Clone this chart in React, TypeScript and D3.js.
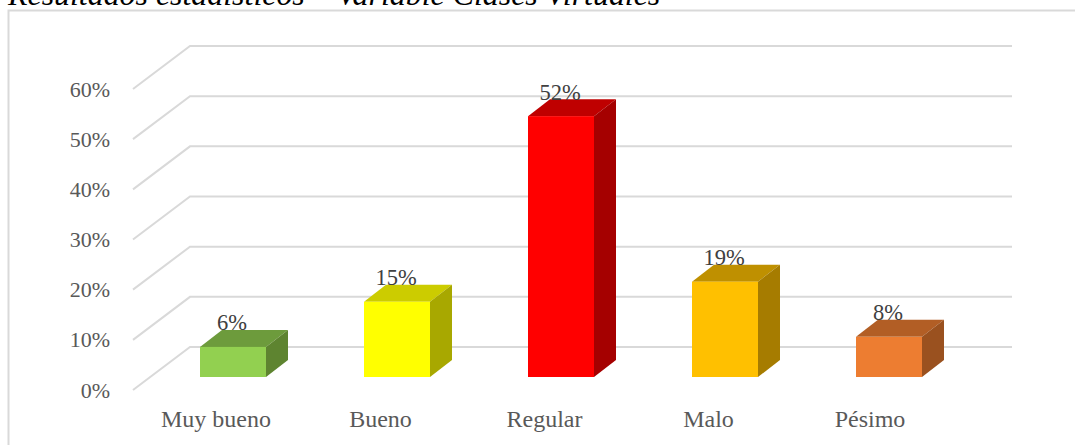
import React from "react";
import * as d3 from "d3";

const categories = ["Muy bueno", "Bueno", "Regular", "Malo", "Pésimo"];
const values = [6, 15, 52, 19, 8];
const ticks = [0, 10, 20, 30, 40, 50, 60];
const frontColors = ["#92d050", "#ffff00", "#ff0000", "#ffc000", "#ed7d31"];
const topColors = ["#6d9b3c", "#cccc00", "#bf0000", "#bf9000", "#b25e25"];
const sideColors = ["#5e8430", "#a8a800", "#a50000", "#a67c00", "#9a511f"];
const labelCenters = [216, 380.5, 544.5, 708.5, 870];
const titleText = "Resultados estadísticos – Variable Clases Virtuales";

const DX = 57;
const DY = -43;
const BAR_DX = 22;
const BAR_DY = -17;
const SERIF = "'Liberation Serif', serif";

export default function App() {
  const y = d3.scaleLinear().domain([0, 60]).range([390, 89]);
  const barY = d3.scaleLinear().domain([0, 60]).range([377, 76]);
  const step = 164;
  const w = 66;
  const xl = (i: number) => 200 + i * step;
  return (
    <svg width={1075} height={445} style={{ position: "absolute", left: 0, top: 0, background: "#fff" }}>
      <text x={8} y={5} fontFamily={SERIF} fontStyle="italic" fontSize={31.9} fill="#000">{titleText}</text>
      <path d="M8.5 445V10.5H1075" fill="none" stroke="#d9d9d9" strokeWidth={2} />
      {ticks.map((t) => (
        <g key={t}>
          <path d={`M133 ${y(t)}L${133 + DX} ${y(t) + DY}H1012`} fill="none" stroke="#d9d9d9" strokeWidth={2} />
          <text x={110} y={y(t) + 7.5} textAnchor="end" fontFamily={SERIF} fontSize={22} fill="#595959">{t}%</text>
        </g>
      ))}
      {categories.map((c, i) => {
        const l = xl(i);
        const r = l + w;
        const t = barY(values[i]);
        const b = barY(0);
        return (
          <g key={c}>
            <path d={`M${l} ${t}H${r}L${r + BAR_DX} ${t + BAR_DY}H${l + BAR_DX}Z`} fill={topColors[i]} />
            <path d={`M${r} ${t}V${b}L${r + BAR_DX} ${b + BAR_DY}V${t + BAR_DY}Z`} fill={sideColors[i]} />
            <rect x={l} y={t} width={w} height={b - t} fill={frontColors[i]} />
            <text x={l + w / 2 - 1} y={t - 16.5} textAnchor="middle" fontFamily={SERIF} fontSize={22.5} fill="#404040">{values[i]}%</text>
            <text x={labelCenters[i]} y={427} textAnchor="middle" fontFamily={SERIF} fontSize={24} fill="#595959">{c}</text>
          </g>
        );
      })}
    </svg>
  );
}
